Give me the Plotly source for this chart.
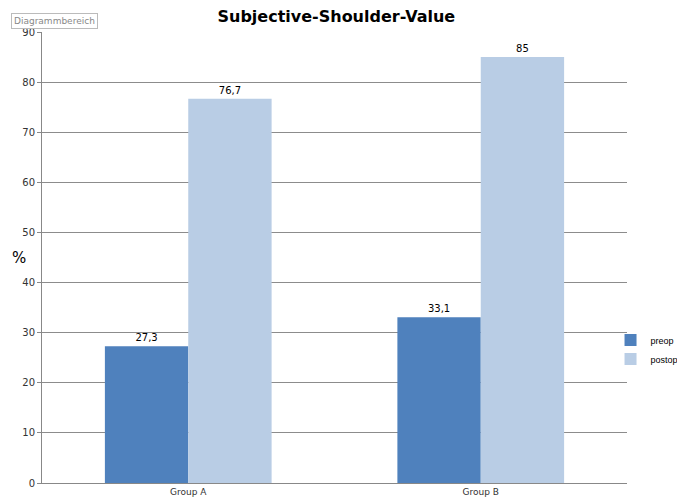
import plotly.graph_objects as go

groups = ["Group A", "Group B"]
preop = [27.3, 33.1]
postop = [76.7, 85]
preop_labels = ["27,3", "33,1"]
postop_labels = ["76,7", "85"]

fig = go.Figure()

fig.add_trace(go.Bar(
    x=groups, y=preop, name="preop",
    marker=dict(color="#4F81BD", line=dict(width=0)),
    text=preop_labels, textposition="outside",
    textfont=dict(size=10, color="#000000"),
    cliponaxis=False,
))
fig.add_trace(go.Bar(
    x=groups, y=postop, name="postop",
    marker=dict(color="#B9CDE5", line=dict(width=0)),
    text=postop_labels, textposition="outside",
    textfont=dict(size=10, color="#000000"),
    cliponaxis=False,
))

# page adds ~8px body margin, so the figure is sized to fit the window
fig.update_layout(
    width=677, height=495,
    paper_bgcolor="white", plot_bgcolor="white",
    font=dict(family="DejaVu Sans", size=10, color="#333333"),
    title=dict(text="<b>Subjective-Shoulder-Value</b>", x=0.485, xanchor="center",
               y=0.994, yanchor="top",
               font=dict(size=16, color="#000000")),
    barmode="group", bargap=0.43, bargroupgap=0,
    margin=dict(l=34, r=58, t=24, b=20, autoexpand=False),
    showlegend=True,
    legend=dict(xref="container", yref="container", x=0.89, y=0.31,
                xanchor="left", yanchor="middle", bgcolor="rgba(0,0,0,0)",
                font=dict(size=9, color="#000000", family="Liberation Sans"),
                itemwidth=30, tracegroupgap=2),
    annotations=[
        dict(text="%", xref="paper", yref="paper", x=-0.055, y=0.5,
             xanchor="left", showarrow=False,
             font=dict(size=15, color="#000000", family="DejaVu Sans")),
        dict(text="Diagrammbereich", xref="paper", yref="paper", x=-0.053, y=1.0,
             xanchor="left", yanchor="bottom", yshift=3, showarrow=False,
             font=dict(size=9, color="#888888"), bgcolor="white",
             bordercolor="#BBBBBB", borderwidth=1, borderpad=2),
    ],
)

fig.update_xaxes(
    showline=True, linecolor="#888888", linewidth=1,
    showgrid=False, ticks="", tickfont=dict(size=9, color="#333333"),
)
fig.update_yaxes(
    range=[0, 90], dtick=10,
    showline=True, linecolor="#888888", linewidth=1,
    showgrid=True, gridcolor="#8C8C8C", gridwidth=1,
    ticks="outside", ticklen=4, tickcolor="#888888",
    tickfont=dict(size=10, color="#333333"), zeroline=False,
)

fig.write_html("out.html")
